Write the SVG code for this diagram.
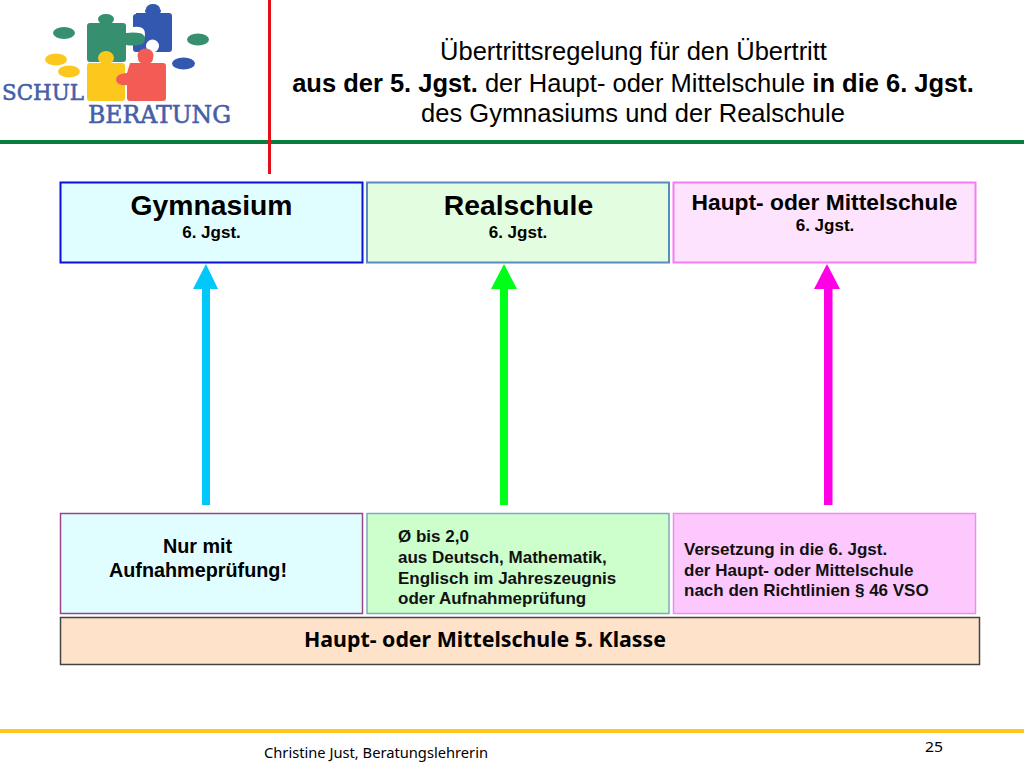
<svg xmlns="http://www.w3.org/2000/svg" width="1024" height="768" viewBox="0 0 1024 768">
<style>
text{font-family:"Liberation Sans",Arial,sans-serif;fill:#000}
.b{font-weight:bold}
.m{text-anchor:middle}
.t{font-size:25.500px}
.big{font-size:28.300px;font-weight:bold;text-anchor:middle}
.s{font-size:17px;font-weight:bold;text-anchor:middle}
.d{font-size:17px;font-weight:bold;fill:#111}
.c{font-family:"Noto Sans","Open Sans",sans-serif}
.logo{font-family:"DejaVu Serif",serif;fill:#4560a8;stroke:#4560a8;stroke-width:.6px}
</style>
<rect width="1024" height="768" fill="#fff"/>
<g id="logo">
<ellipse cx="64" cy="33" rx="11" ry="6" fill="#369070"/>
<ellipse cx="198" cy="39.500" rx="11" ry="6" fill="#369070"/>
<ellipse cx="56" cy="59.500" rx="11" ry="6" fill="#fdc81e"/>
<ellipse cx="69" cy="71.500" rx="11" ry="6" fill="#fdc81e"/>
<ellipse cx="183.500" cy="63.500" rx="11.500" ry="6" fill="#3358b0"/>
<path d="M136 13h10a7 4 0 0 1 0-4a7 5 0 1 1 14 0a7 4 0 0 1 0 4h9a3 3 0 0 1 3 3v33a3 3 0 0 1-3 3H136a3 3 0 0 1-3-3v-8q12 2 12-7t-12-7v-10q0-3 3-3z" fill="#3358b0"/>
<circle cx="152.500" cy="46" r="6.500" fill="#fff"/>
<path d="M90 23h10q-2-2-2-4a8 5 0 1 1 16 0q0 2-2 4h11a3 3 0 0 1 3 3v7q8-1 13 0a6 6 0 0 1 0 12q-6 1-13 0v14a3 3 0 0 1-3 3H90a3 3 0 0 1-3-3V26a3 3 0 0 1 3-3z" fill="#369070"/>
<path d="M90 63h11q-3-2-3-5a8 7 0 1 1 16 0q0 3-3 5h11a3 3 0 0 1 3 3v32a3 3 0 0 1-3 3H90a3 3 0 0 1-3-3V66a3 3 0 0 1 3-3z" fill="#fdc81e"/>
<path d="M130 63h11q-3-1-3-5a8 7 0 1 1 15 0q0 4-3 5h13a3 3 0 0 1 3 3v32a3 3 0 0 1-3 3h-33a3 3 0 0 1-3-3v-13q-10 1-11-5t11-7z" fill="#f25c54"/>
<text class="logo" x="2" y="100" font-size="23" textLength="82" lengthAdjust="spacingAndGlyphs">SCHUL</text>
<text class="logo" x="88" y="123" font-size="23.500" textLength="143" lengthAdjust="spacingAndGlyphs">BERATUNG</text>
</g>
<g id="frame">
<rect x="0" y="140" width="1024" height="4" fill="#0a7d3e"/>
<rect x="268" y="0" width="3" height="174" fill="#e3101c"/>
<rect x="0" y="729" width="1024" height="4" fill="#fdc81e"/>
</g>
<g id="title">
<text class="t m" x="633.500" y="60">Übertrittsregelung für den Übertritt</text>
<text class="t m" x="633" y="92"><tspan class="b">aus der 5. Jgst.</tspan> der Haupt- oder Mittelschule <tspan class="b">in die 6. Jgst.</tspan></text>
<text class="t m" x="633" y="122">des Gymnasiums und der Realschule</text>
</g>
<g id="connectors">
<g id="arrow-gymnasium" fill="#00c8fa"><rect x="202" y="288" width="8" height="217"/><path d="M193 289L206 264L218 289z"/></g>
<g id="arrow-realschule" fill="#00ff18"><rect x="500" y="288" width="8" height="217"/><path d="M491 289L504 264L517 289z"/></g>
<g id="arrow-hauptschule" fill="#ff00e6"><rect x="824" y="288" width="8.500" height="217"/><path d="M814 289L827 264L840 289z"/></g>
</g>
<g id="node-gymnasium">
<rect x="60.500" y="182.500" width="302" height="80" fill="#e0feff" stroke="#0b0fd8" stroke-width="2"/>
<text class="big" x="211.500" y="215">Gymnasium</text>
<text class="s" x="211.500" y="237.500">6. Jgst.</text>
</g>
<g id="node-realschule">
<rect x="367" y="182.500" width="302" height="80" fill="#e3fde0" stroke="#5b8ac0" stroke-width="2"/>
<text class="big" x="518.500" y="215">Realschule</text>
<text class="s" x="518" y="237.500">6. Jgst.</text>
</g>
<g id="node-hauptschule">
<rect x="673.500" y="182.500" width="302" height="80" fill="#fde3fe" stroke="#f57cf0" stroke-width="2"/>
<text x="824.500" y="210" class="m b" font-size="22.800">Haupt- oder Mittelschule</text>
<text class="s" x="825" y="231">6. Jgst.</text>
</g>
<g id="node-aufnahme">
<rect x="60.500" y="513.500" width="302" height="100" fill="#e0feff" stroke="#99448c" stroke-width="1.500"/>
<text class="m b" font-size="19.800" x="197.500" y="553">Nur mit</text>
<text class="m b" font-size="19.800" x="198" y="577">Aufnahmeprüfung!</text>
</g>
<g id="node-schnitt">
<rect x="367" y="513.500" width="302" height="100" fill="#ccffcc" stroke="#7fa8c0" stroke-width="1.500"/>
<text class="d" x="398" y="542">Ø bis 2,0</text>
<text class="d" x="398" y="563">aus Deutsch, Mathematik,</text>
<text class="d" x="398" y="584">Englisch im Jahreszeugnis</text>
<text class="d" x="398" y="604">oder Aufnahmeprüfung</text>
</g>
<g id="node-versetzung">
<rect x="673.500" y="513.500" width="302" height="100" fill="#fdc8fd" stroke="#f08cf0" stroke-width="1.500"/>
<text class="d" x="684" y="555">Versetzung in die 6. Jgst.</text>
<text class="d" x="684" y="576">der Haupt- oder Mittelschule</text>
<text class="d" x="684" y="596">nach den Richtlinien § 46 VSO</text>
</g>
<g id="node-klasse5">
<rect x="60.500" y="617.500" width="919" height="47" fill="#fee2ca" stroke="#444" stroke-width="1.500"/>
<text class="c b" x="304" y="647" font-size="22" textLength="362" lengthAdjust="spacingAndGlyphs">Haupt- oder Mittelschule 5. Klasse</text>
</g>
<g id="footer">
<text class="c" x="264" y="758" font-size="15" textLength="224" lengthAdjust="spacingAndGlyphs" fill="#111">Christine Just, Beratungslehrerin</text>
<text class="c" x="925" y="752" font-size="14.500" textLength="18" lengthAdjust="spacingAndGlyphs" fill="#333">25</text>
</g>
</svg>
